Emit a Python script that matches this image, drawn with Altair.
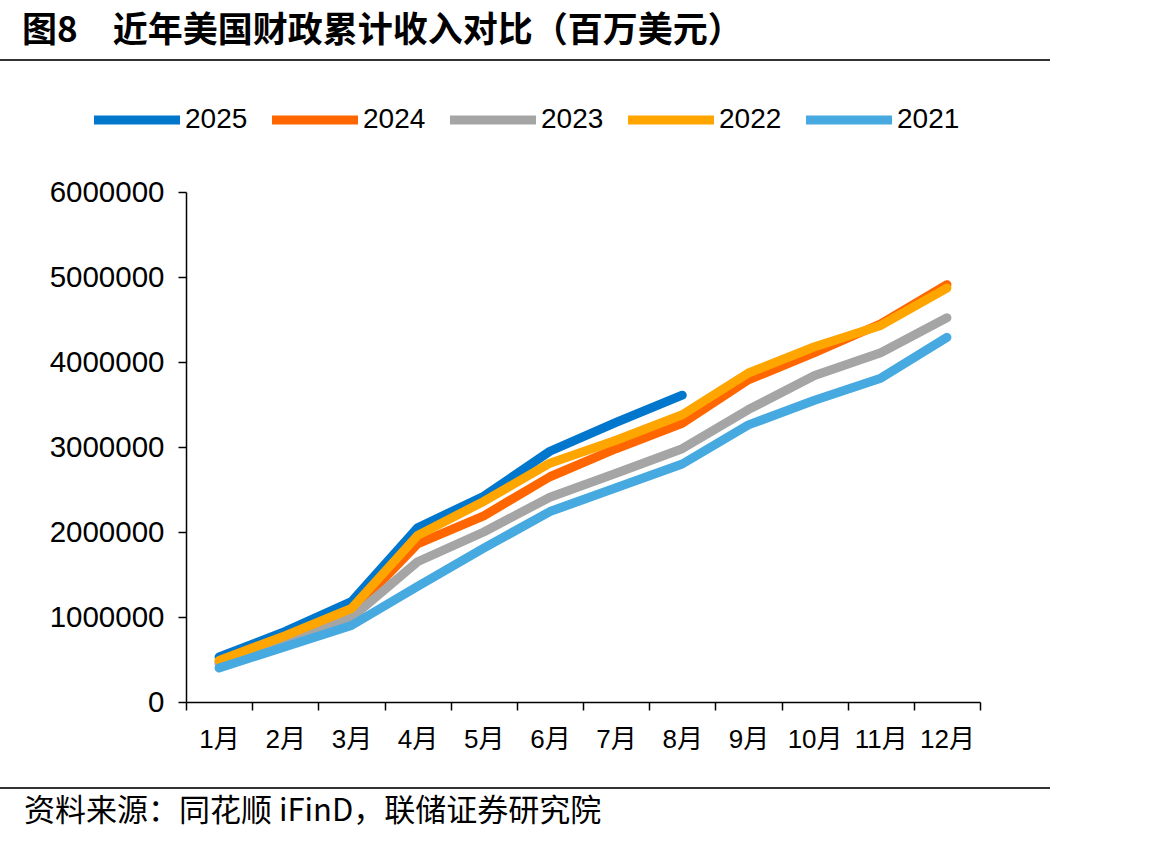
import altair as alt
import pandas as pd

months = ["1月", "2月", "3月", "4月", "5月", "6月", "7月", "8月", "9月", "10月", "11月", "12月"]
years = ["2025", "2024", "2023", "2022", "2021"]
colors = ["#0077CC", "#FF6600", "#A5A5A5", "#FFA500", "#46A9E0"]

v2025 = [530000, 830000, 1180000, 2050000, 2420000, 2950000, 3290000, 3610000]
v2024 = [470000, 750000, 1050000, 1860000, 2190000, 2650000, 2980000, 3280000, 3790000, 4110000, 4450000, 4910000]
v2023 = [450000, 710000, 990000, 1650000, 2000000, 2410000, 2690000, 2980000, 3440000, 3840000, 4110000, 4520000]
v2022 = [490000, 780000, 1100000, 1960000, 2360000, 2810000, 3080000, 3380000, 3870000, 4180000, 4430000, 4870000]
v2021 = [400000, 650000, 900000, 1360000, 1810000, 2240000, 2520000, 2800000, 3260000, 3550000, 3810000, 4290000]

title_text = "图8　近年美国财政累计收入对比（百万美元）"
source_text = "资料来源：同花顺 iFinD，联储证券研究院"

series = {"2025": v2025, "2024": v2024, "2023": v2023, "2022": v2022, "2021": v2021}
rows = []
for y, vals in series.items():
    for m, v in zip(months, vals):
        rows.append({"year": y, "month": m, "value": v})
df = pd.DataFrame(rows)

FONT = "Liberation Sans, Noto Sans CJK SC, sans-serif"

x_enc = alt.X("month:O", sort=months, bandPosition=0.5,
              scale=alt.Scale(type="band", domain=months, paddingInner=0, paddingOuter=0),
              axis=alt.Axis(title=None, labelAngle=0, tickBand="extent", labelFontSize=26,
                            labelFont=FONT, labelColor="black", labelPadding=16,
                            domainColor="black", domainWidth=1.5, tickColor="black",
                            tickWidth=1.5, tickSize=8, grid=False))
y_enc = alt.Y("value:Q",
              scale=alt.Scale(domain=[0, 6000000], nice=False),
              axis=alt.Axis(title=None, values=[0, 1000000, 2000000, 3000000, 4000000, 5000000, 6000000],
                            format="d", labelFontSize=29.5, labelFont=FONT, labelColor="black",
                            labelPadding=14, domainColor="black", domainWidth=1.5,
                            tickColor="black", tickWidth=1.5, tickSize=8, grid=False))
color_enc = alt.Color("year:N",
                      scale=alt.Scale(domain=years, range=colors),
                      legend=alt.Legend(title=None, orient="none", legendX=-97, legendY=-120,
                                        direction="horizontal", columns=5,
                                        symbolType="stroke", symbolSize=7400, symbolStrokeWidth=9,
                                        labelFontSize=28, labelFont=FONT, labelColor="black",
                                        labelOffset=0, columnPadding=5))

layers = []
for y in years:
    layers.append(
        alt.Chart(df).transform_filter(alt.datum.year == y)
        .mark_line(strokeWidth=9, strokeCap="round", strokeJoin="round")
        .encode(x=x_enc, y=y_enc, color=color_enc)
    )

one = pd.DataFrame({"t": [title_text]})
src = pd.DataFrame({"t": [source_text]})
rule_df = pd.DataFrame({"a": [0]})

title_mark = alt.Chart(one).mark_text(align="left", baseline="middle", fontSize=35,
                                      fontWeight="bold", font="Noto Sans CJK SC", color="black").encode(
    x=alt.value(-164), y=alt.value(-161), text="t:N")
source_mark = alt.Chart(src).mark_text(align="left", baseline="middle", fontSize=31,
                                       font="Noto Sans CJK SC", color="black").encode(
    x=alt.value(-162), y=alt.value(620), text="t:N")
top_rule = alt.Chart(rule_df).mark_rule(color="#333333", strokeWidth=2).encode(
    x=alt.value(-186), x2=alt.value(864), y=alt.value(-132))
bottom_rule = alt.Chart(rule_df).mark_rule(color="#333333", strokeWidth=2).encode(
    x=alt.value(-186), x2=alt.value(864), y=alt.value(596))

chart = alt.layer(*layers, title_mark, source_mark, top_rule, bottom_rule).properties(
    width=794, height=510,
    background="white",
    autosize=alt.AutoSizeParams(type="none"),
    padding={"left": 186, "top": 192, "right": 190, "bottom": 141},
).configure_view(stroke=None)

chart.save("out.html", embed_options={"renderer": "svg", "actions": False})
